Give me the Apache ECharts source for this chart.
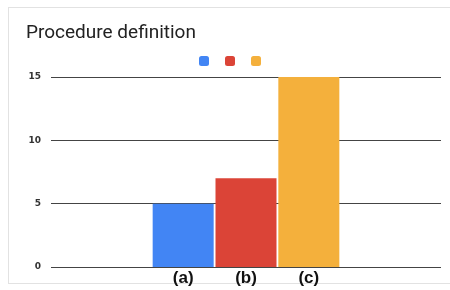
<!DOCTYPE html>
<html>
<head>
<meta charset="utf-8">
<script src="https://cdn.jsdelivr.net/npm/echarts@6/dist/echarts.min.js"></script>
<style>
  html, body { margin: 0; padding: 0; background: #fff; }
  #frame { position: absolute; left: 8px; top: 7px; width: 445px; height: 277px; border: 1px solid #e2e2e2; box-sizing: border-box; }
  #chart { position: absolute; left: 0; top: 0; width: 450px; height: 290px; }
</style>
</head>
<body>
<div id="frame"></div>
<div id="chart"></div>
<script>
// data
var seriesNames = ['(a)', '(b)', '(c)'];
var seriesValues = [5, 7, 15];
var seriesColors = ['#4285f4', '#db4437', '#f4b03c'];
var yTicks = [0, 5, 10, 15];

var chart = echarts.init(document.getElementById('chart'));

var series = seriesNames.map(function (name, i) {
    return {
        name: name,
        type: 'bar',
        data: [seriesValues[i]],
        barWidth: 61,
        barGap: '3%',
        itemStyle: { color: seriesColors[i] },
        label: {
            show: true,
            position: 'bottom',
            distance: 3,
            formatter: name,
            color: '#111',
            fontSize: 17,
            fontWeight: 'bold',
            fontFamily: 'Liberation Sans'
        }
    };
});

chart.setOption({
    animation: false,
    title: {
        text: 'Procedure definition',
        left: 21,
        top: 19,
        textStyle: { fontSize: 19, fontWeight: 'normal', color: '#222', fontFamily: 'Roboto' }
    },
    legend: {
        data: seriesNames,
        left: 194,
        top: 51,
        itemWidth: 10,
        itemHeight: 10,
        itemGap: 16,
        icon: 'roundRect',
        formatter: function () { return ''; },
        textStyle: { fontSize: 1 }
    },
    grid: { left: 51, right: 9, top: 77, bottom: 23 },
    xAxis: {
        type: 'category',
        data: [''],
        axisLine: { show: false },
        axisTick: { show: false },
        axisLabel: { show: false }
    },
    yAxis: {
        type: 'value',
        min: yTicks[0],
        max: yTicks[yTicks.length - 1],
        interval: 5,
        axisLine: { show: false },
        axisTick: { show: false },
        axisLabel: { color: '#333', fontSize: 9, fontWeight: 'bold', margin: 10, fontFamily: 'DejaVu Sans' },
        splitLine: { lineStyle: { color: '#444', width: 1 } }
    },
    series: series
});
</script>
</body>
</html>
